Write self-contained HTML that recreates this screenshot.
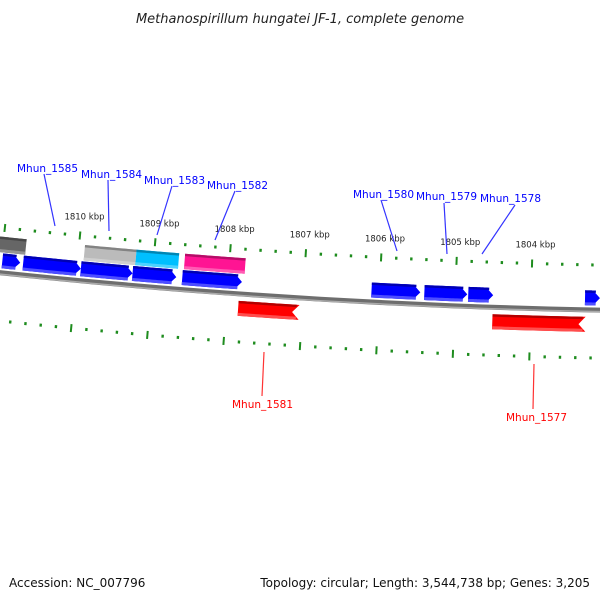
<!DOCTYPE html>
<html><head><meta charset="utf-8"><style>
html,body{margin:0;padding:0;background:#fff;}
svg{display:block;font-family:"DejaVu Sans","Liberation Sans",sans-serif;}
</style></head><body>
<svg id="map" width="600" height="600" viewBox="0 0 600 600">
<text x="300" y="23" text-anchor="middle" font-size="13" font-style="italic" fill="#222">Methanospirillum hungatei JF-1, complete genome</text>
<g id="ticks"></g>
<g id="backbone"></g>
<g id="genes"></g>
<g id="labels">
<g stroke="#3333ff" stroke-width="1.2">
<line x1="44" y1="174" x2="55" y2="226"/><line x1="108" y1="180" x2="109" y2="231"/>
<line x1="172" y1="186" x2="157" y2="235"/><line x1="235" y1="191" x2="215" y2="240"/>
<line x1="381" y1="200" x2="397" y2="251"/><line x1="444" y1="203" x2="447" y2="254"/>
<line x1="515" y1="205" x2="482" y2="254"/>
</g>
<g stroke="#ff3333" stroke-width="1.2">
<line x1="264" y1="352" x2="262" y2="396"/><line x1="534" y1="364" x2="533" y2="409"/>
</g>
<g font-size="10.5" fill="#0000ff">
<text x="17" y="172">Mhun_1585</text>
<text x="81" y="178">Mhun_1584</text>
<text x="144" y="184">Mhun_1583</text>
<text x="207" y="189">Mhun_1582</text>
<text x="353" y="198">Mhun_1580</text>
<text x="416" y="200">Mhun_1579</text>
<text x="480" y="202">Mhun_1578</text>
</g>
<g font-size="10.5" fill="#ff0000">
<text x="232" y="408">Mhun_1581</text>
<text x="506" y="421">Mhun_1577</text>
</g>
</g>
<text x="9" y="587" font-size="12" fill="#111">Accession: NC_007796</text>
<text x="590" y="587" font-size="12" text-anchor="end" fill="#111">Topology: circular; Length: 3,544,738 bp; Genes: 3,205</text>
</svg>
<script>
const tickKbp = [1810, 1809, 1808, 1807, 1806, 1805, 1804];
const fwdStarts = [1810987, 1810711, 1809947, 1809263, 1808605, 1806105, 1805408, 1804829, 1803289];
const fwdEnds   = [1810750, 1809947, 1809263, 1808684, 1807816, 1805461, 1804842, 1804500, 1803092];
const fwdColors = ['#0000ff','#0000ff','#0000ff','#0000ff','#0000ff','#0000ff','#0000ff','#0000ff','#0000ff'];
const row2Starts = [1811200, 1809921, 1809237, 1808592];
const row2Ends   = [1810697, 1809237, 1808671, 1807789];
const row2Colors = ['#666666','#bbbbbb','#00bfff','#ff1493'];
const revStarts = [1807842, 1804500];
const revEnds   = [1807132, 1803368];

const NS='http://www.w3.org/2000/svg';
const R=6900, CX=729, CY=311.3-6900, PXPERBP=0.076, REFBP=1807000;
const TH0=Math.asin((303-CX)/R);
function pt(bp, off){ // off positive = upward (toward center)
  const th=TH0+(REFBP-bp)*PXPERBP/R, r=R-off;
  return [CX+r*Math.sin(th), CY+r*Math.cos(th)];
}
function mk(tag, attrs, parent){const e=document.createElementNS(NS,tag);for(const k in attrs)e.setAttribute(k,attrs[k]);parent.appendChild(e);return e;}
function arcPath(b1,b2,off){let d='';const n=20;for(let i=0;i<=n;i++){const p=pt(b1+(b2-b1)*i/n,off);d+=(i?'L':'M')+p[0].toFixed(2)+' '+p[1].toFixed(2);}return d;}

// backbone
const bb=document.getElementById('backbone');
const b1=mk('path',{d:arcPath(1811500,1802900,0),stroke:'#6e6e6e','stroke-width':5,fill:'none'},bb);


const b2=mk('path',{d:arcPath(1811500,1802900,-1.5),stroke:'#aaaaaa','stroke-width':1.5,fill:'none'},bb);



// ticks
const tg=document.getElementById('ticks');
function tickRing(off){
  for(let bp=1811400; bp>=1802900; bp-=200){
    const major=(bp%1000===0);
    const len=major?8:3;
    const a=pt(bp,off+len/2), b=pt(bp,off-len/2);
    const t=mk('line',{x1:a[0],y1:a[1],x2:b[0],y2:b[1],stroke:'#1e8c1e','stroke-width':major?2:2.4},tg);
    
    
  }
}
tickRing(45); tickRing(-48);
tickKbp.forEach(k=>{
  const p=pt(k*1000,61);
  const t=mk('text',{x:p[0]+3,y:p[1],'text-anchor':'middle','font-size':'8.5',fill:'#222'},tg);
  t.textContent=k+' kbp';
  
  
});

// genes
const gg=document.getElementById('genes');
function shade(hex,f){const n=parseInt(hex.slice(1),16);let r=n>>16,g=(n>>8)&255,b=n&255;
  if(f<0){r=r*(1+f);g=g*(1+f);b=b*(1+f);}else{r=r+(255-r)*f;g=g+(255-g)*f;b=b+(255-b)*f;}
  return 'rgb('+Math.round(r)+','+Math.round(g)+','+Math.round(b)+')';}
function gene(s,e,inner,outer,color,dir,name,arrow){
  // dir: +1 forward (pointing to smaller bp / right), -1 reverse
  const mid=(inner+outer)/2, head=7/PXPERBP;
  let pts=[];
  const tip = dir>0? e : e; // end coordinate is tip for forward; for reverse tip at start (left)
  if(arrow){
    if(dir>0){
      const hb=s-(s-e)>head? e+head : (s+e)/2;
      const n=10;
      for(let i=0;i<=n;i++)pts.push(pt(s+(hb-s)*i/n,outer));
      pts.push(pt(e,mid));
      for(let i=n;i>=0;i--)pts.push(pt(s+(hb-s)*i/n,inner));
    } else {
      const hb=s-head;
      const n=10;
      pts.push(pt(s,mid));
      for(let i=0;i<=n;i++)pts.push(pt(hb+(e-hb)*i/n,outer));
      for(let i=n;i>=0;i--)pts.push(pt(hb+(e-hb)*i/n,inner));
    }
  } else {
    const n=10;
    for(let i=0;i<=n;i++)pts.push(pt(s+(e-s)*i/n,outer));
    for(let i=n;i>=0;i--)pts.push(pt(s+(e-s)*i/n,inner));
  }
  const g=mk('g',{},gg);
  
  
  mk('polygon',{points:pts.map(p=>p[0].toFixed(2)+','+p[1].toFixed(2)).join(' '),fill:color},g);
  // top dark strip & bottom light strip
  const topD=arcPath(arrow&&dir<0?s-head*0.6:s, arrow&&dir>0?e+head*0.6:e, outer-1.2);
  mk('path',{d:topD,stroke:shade(color,-0.3),'stroke-width':2.4,fill:'none'},g);
  const botD=arcPath(arrow&&dir<0?s-head*0.6:s, arrow&&dir>0?e+head*0.6:e, inner+1.5);
  mk('path',{d:botD,stroke:shade(color,0.3),'stroke-width':3,fill:'none'},g);
}
fwdStarts.forEach((s,i)=>gene(s,fwdEnds[i],4.5,19.5,fwdColors[i],1,'forward-gene-'+i,true));
row2Starts.forEach((s,i)=>gene(s,row2Ends[i],20.5,36,row2Colors[i],1,'feature-bar-'+i,false));
revStarts.forEach((s,i)=>gene(revEnds[i],s,-22,-7,'#ff0000',-1,'reverse-gene-'+i,true));
</script>
</body></html>
